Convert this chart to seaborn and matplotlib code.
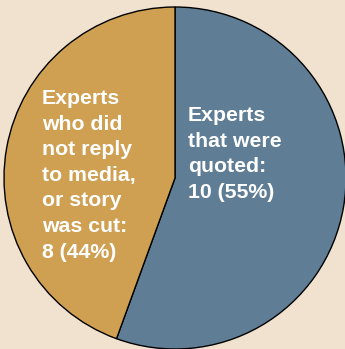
import matplotlib
matplotlib.use("Agg")
import matplotlib.pyplot as plt
import seaborn as sns

categories = ["Experts\nthat were\nquoted:", "Experts\nwho did\nnot reply\nto media,\nor story\nwas cut:"]
counts = [10, 8]
percents = [55, 44]
colors = ["#5F7E96", "#CFA052"]

sns.set_theme(style="white")
plt.rcParams['font.family'] = ['Liberation Sans', 'DejaVu Sans']

fig = plt.figure(figsize=(3.45, 3.49), dpi=100)
fig.patch.set_facecolor("#F1E2CF")
ax = fig.add_axes([0, 0, 1, 1])
ax.set_facecolor("#F1E2CF")

ax.pie(counts, colors=sns.color_palette(colors), startangle=90, counterclock=False,
       center=(175, 171), radius=171,
       wedgeprops=dict(edgecolor="black", linewidth=1.0))
ax.set_xlim(0, 345)
ax.set_ylim(0, 349)
ax.set_aspect("equal")
ax.axis("off")

labels = [f"{c}\n{n} ({p}%)" for c, n, p in zip(categories, counts, percents)]
positions = [(188, 349 - 106), (42, 349 - 89)]
for (x, y), lab in zip(positions, labels):
    ax.text(x, y, lab, ha="left", va="top", color="white", fontsize=15.3,
            fontweight="bold", linespacing=1.44)

fig.savefig("out.png", dpi=100, facecolor=fig.get_facecolor())
